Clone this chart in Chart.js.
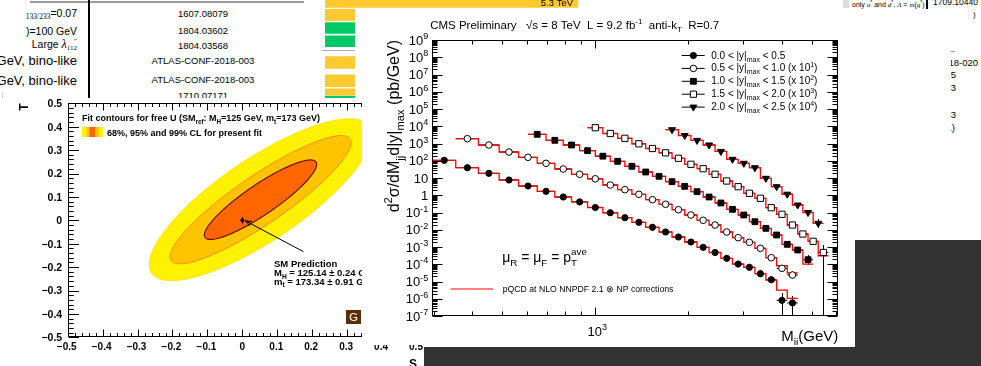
<!DOCTYPE html>
<html>
<head>
<meta charset="utf-8">
<style>
  body { margin: 0; background: #fff; }
  #page { position: relative; width: 981px; height: 366px; overflow: hidden; background: #fff;
          font-family: "Liberation Sans", Arial, Helvetica, sans-serif; color: #000; }
  .t { position: absolute; white-space: nowrap; font-size: 10px; line-height: 12px; }
  .r { text-align: right; }
  .c { text-align: center; }
  .serif { font-family: "Liberation Serif", "DejaVu Serif", serif; }
  canvas { position: absolute; }
  .blk { position: absolute; background: #333; z-index: 20; }
</style>
</head>
<body>
<div id="page">
  <!-- table fragment behind the plots, top left -->
  <div style="position:absolute;left:30px;top:1px;width:274px;height:2px;background:#9a9a9a"></div>
  <div style="position:absolute;left:88px;top:0;width:2px;height:98px;background:#000"></div>
  <div class="t r" style="right:904px;top:7px;font-size:10.5px"><span class="serif" style="font-size:7.5px;position:relative;top:2px">133/233</span>=0.07</div>
  <div class="t r" style="right:904px;top:25px;font-size:10.5px">)=100 GeV</div>
  <div class="t r" style="right:904px;top:38px;font-size:10.5px">Large <i class="serif" style="font-size:12px">λ</i><span class="serif" style="display:inline-block;vertical-align:middle;line-height:7px;font-size:7px">′′<br>112</span></div>
  <div class="t r" style="right:904px;top:54px;font-size:13px;line-height:14px">GeV, bino-like</div>
  <div class="t r" style="right:904px;top:74px;font-size:13px;line-height:14px">GeV, bino-like</div>
  <div class="t c" style="left:143px;width:120px;top:8px;font-size:9.5px">1607.08079</div>
  <div class="t c" style="left:143px;width:120px;top:25px;font-size:9.5px">1804.03602</div>
  <div class="t c" style="left:143px;width:120px;top:40px;font-size:9.5px">1804.03568</div>
  <div class="t c" style="left:143px;width:120px;top:55px;font-size:9.5px">ATLAS-CONF-2018-003</div>
  <div class="t c" style="left:143px;width:120px;top:74px;font-size:9.5px">ATLAS-CONF-2018-003</div>
  <div class="t c" style="left:143px;width:120px;top:90px;font-size:9.5px">1710.07171</div>
  <div style="position:absolute;left:322px;top:50px;width:34px;height:1px;background:#aaa"></div>

  <!-- table fragment, top right strip and right column -->
  <div style="position:absolute;left:843px;top:0;width:6px;height:8px;background:#ddd"></div>
  <div class="t" style="left:852px;top:-4px;font-size:7px">only <i class="serif">u</i><sup style="font-size:5px">*</sup> and <i class="serif">d</i><sup style="font-size:5px">*</sup>, <i class="serif">Λ</i> = <i class="serif">m</i>(<i class="serif">q</i><sup style="font-size:5px">*</sup>)</div>
  <div style="position:absolute;left:926px;top:0;width:2px;height:9px;background:#000"></div>
  <div class="t r" style="right:3px;top:-4px;font-size:8.5px">1709.10440</div>
  <div class="t" style="left:973px;top:9px;font-size:8px">)</div>
  <div style="position:absolute;left:900px;top:51px;width:55px;height:1px;background:#999"></div>
  <div class="t r" style="right:3px;top:57px;font-size:9.5px">ATLAS-CONF-2018-020</div>
  <div class="t r" style="right:25px;top:69px;font-size:9.5px">1801.02385</div>
  <div class="t r" style="right:25px;top:82px;font-size:9.5px">1805.10663</div>
  <div class="t r" style="right:25px;top:109px;font-size:9.5px">1708.07393</div>
  <div class="t r" style="right:26px;top:122px;font-size:9.5px">(1711.03301)</div>

  <canvas id="summary" width="300" height="100" style="left:325px;top:0;z-index:1"></canvas>

  <div style="position:absolute;left:2px;top:92px;width:1px;height:232px;background:#d0d0d0"></div>
  <div class="t" style="left:-3px;top:326px;font-size:17px;line-height:20px">5</div>
  <canvas id="stplot" width="440" height="268" style="left:0;top:98px;z-index:2"></canvas>
  <div style="position:absolute;left:346px;top:310px;width:15px;height:14px;background:#5b2c0b;color:#fff;font:11px 'Liberation Sans',Arial,sans-serif;line-height:14px;text-align:center;z-index:3">G</div>

  <div style="position:absolute;left:355px;top:9px;width:8px;height:89px;background:#fff;z-index:4"></div>
  <canvas id="dijet" width="589" height="336" style="left:362px;top:9px;z-index:5"></canvas>

  <div class="blk" style="left:424px;top:346.5px;width:557px;height:20px"></div>
  <div class="blk" style="left:855px;top:240px;width:126px;height:126px"></div>
</div>

<script src="https://cdn.jsdelivr.net/npm/chart.js"></script>
<script>
const SANS = '"Liberation Sans", Arial, Helvetica, sans-serif';

// ---------- dijet mass spectrum, CMS 8 TeV ----------
// mass bin boundaries (GeV); each rapidity bin uses every other one as a bin centre
const massGrid = [296, 325, 354, 386, 419, 453, 489, 526, 565, 606, 649, 693, 740, 788, 838, 890, 944,
  1000, 1058, 1118, 1181, 1246, 1313, 1383, 1455, 1530, 1607, 1687, 1770, 1856, 1945, 2037, 2132,
  2231, 2332, 2438, 2546, 2659, 2775, 2895, 3019, 3147, 3279, 3416, 3558, 3704, 3854, 4010, 4171,
  4337, 4509, 4686, 4869, 5058, 5253, 5455, 5663, 5877, 6099];

const rapLo = ['0.0', '0.5', '1.0', '1.5', '2.0'];
const rapHi = ['0.5', '1.0', '1.5', '2.0', '2.5'];
const rapScaleExp = [0, 1, 2, 3, 4];

const mjjBin1 = [325, 386, 453, 526, 606, 693, 788, 890, 1000, 1118, 1246, 1383, 1530, 1687, 1856, 2037, 2231, 2438, 2659, 2895, 3147, 3416, 3704, 4010, 4337];
const dataBin1 = [106, 39.5, 18.7, 7.66, 3.44, 1.69, 0.79, 0.41, 0.195, 0.097, 0.050, 0.027, 0.0139, 0.0074, 0.0038, 0.00195, 9.6e-4, 4.8e-4, 2.2e-4, 1.03e-4, 6.65e-5, 2.83e-5, 1.27e-5, 8.1e-7, 5.7e-7];
const nloBin1 = [106, 39.5, 18.7, 7.66, 3.44, 1.69, 0.79, 0.41, 0.195, 0.097, 0.050, 0.027, 0.0139, 0.0074, 0.0038, 0.00195, 9.6e-4, 4.8e-4, 2.2e-4, 1.03e-4, 6.65e-5, 2.83e-5, 1.2e-5, 3.2e-6, 1.06e-6];

const mjjBin2 = [386, 453, 526, 606, 693, 788, 890, 1000, 1118, 1246, 1383, 1530, 1687, 1856, 2037, 2231, 2438, 2659, 2895, 3147, 3416, 3704, 4010, 4337];
const dataBin2 = [189.7, 81.9, 32.1, 15.8, 7.11, 3.33, 1.64, 0.899, 0.393, 0.210, 0.1135, 0.0552, 0.0299, 0.0145, 0.00716, 0.00353, 0.00188, 7.4e-4, 3.46e-4, 1.87e-4, 8.4e-5, 2.4e-5, 5.8e-6, 2.38e-6];
const nloBin2 = [189.7, 81.9, 32.1, 15.8, 7.11, 3.33, 1.64, 0.899, 0.393, 0.210, 0.1135, 0.0552, 0.0299, 0.0145, 0.00716, 0.00353, 0.00188, 7.4e-4, 3.46e-4, 1.87e-4, 8.4e-5, 2.4e-5, 8.2e-6, 3.1e-6];

const mjjBin3 = [649, 740, 838, 944, 1058, 1181, 1313, 1455, 1607, 1770, 1945, 2132, 2332, 2546, 2775, 3019, 3279, 3558, 3854, 4171, 4509, 4869];
const dataBin3 = [34.15, 15.34, 8.19, 3.83, 1.84, 0.929, 0.477, 0.223, 0.125, 0.061, 0.033, 0.0161, 0.00792, 0.00356, 0.00153, 7.16e-4, 2.93e-4, 1.21e-4, 4.96e-5, 1.43e-5, 6.7e-6, 1.84e-6];
const nloBin3 = [34.15, 15.34, 8.19, 3.83, 1.84, 0.929, 0.477, 0.223, 0.125, 0.061, 0.033, 0.0161, 0.00792, 0.00356, 0.00153, 7.16e-4, 2.93e-4, 1.21e-4, 4.96e-5, 1.43e-5, 6.7e-6, 1.03e-6];

const mjjBin4 = [1000, 1118, 1246, 1383, 1530, 1687, 1856, 2037, 2231, 2438, 2659, 2895, 3147, 3416, 3704, 4010, 4337, 4686, 5058, 5455];
const dataBin4 = [8.24, 3.80, 2.00, 0.961, 0.513, 0.289, 0.139, 0.0623, 0.0346, 0.0164, 0.0067, 0.00313, 0.0013, 6.66e-4, 1.9e-4, 7.87e-5, 1.88e-5, 5.67e-6, 2.14e-6, 4.8e-7];
const nloBin4 = [8.24, 3.80, 2.00, 0.961, 0.513, 0.289, 0.139, 0.0623, 0.0346, 0.0164, 0.0067, 0.00313, 0.0013, 6.66e-4, 1.9e-4, 7.87e-5, 1.88e-5, 5.67e-6, 2.14e-6, 3.1e-7];

const mjjBin5 = [1770, 1945, 2132, 2332, 2546, 2775, 3019, 3279, 3558, 3854, 4171, 4509, 4869, 5253];
const dataBin5 = [0.631, 0.291, 0.1513, 0.0819, 0.0348, 0.0121, 0.00711, 0.00395, 9.61e-4, 3.13e-4, 1.15e-4, 2.72e-5, 1.0e-5, 2.37e-6];
const nloBin5 = [0.631, 0.291, 0.1513, 0.0819, 0.0348, 0.0121, 0.00711, 0.00395, 9.61e-4, 3.13e-4, 1.15e-4, 2.72e-5, 1.0e-5, 2.37e-6];

// [point index, lower, upper] for the visible vertical error bars
const errBin1 = [[23, 1e-9, 2.15e-6], [24, 1e-9, 1.44e-6]];
const errBin2 = [[23, 1.45e-6, 3.9e-6]];
const errBin3 = [[21, 9.1e-7, 3.4e-6]];
const errBin4 = [[19, 1e-11, 1.3e-6]];
const errBin5 = [[13, 1.26e-6, 4.2e-6]];

const xTickMinor = [300, 400, 500, 600, 700, 800, 900, 2000, 3000, 4000, 5000, 6000];
const xTickMajor = [1000];

// ---------- S,T oblique parameter fit ----------
const fitS = 0.052, fitT = 0.088;
const clDeltaChi2 = [9.21, 5.99, 2.30];   // 99, 95, 68 % CL, 2 dof
const clSigmaS = [0.105, 0.106, 0.106];
const clSigmaT = [0.114, 0.112, 0.112];
const clRho = [0.80, 0.89, 0.89];
const smS = [0], smT = [0], smTErr = 0.013;

// ---------- summary bar fragments ----------
const summaryLimitTeV = [5.3, 2.9, 1.7, 1.6, 2.3, 1.9, 1.2, 0.95];
const summaryNote = ['5.3 TeV', '', '', '', '', '', '', ''];
const summaryColor = ['#ffc930', '#ffc930', '#00c864', '#00c864', '#ffc930', '#ffc930', '#ffc930', '#00c864'];
const summaryRowPos = [2, 15, 28, 41.3, 62.5, 80.8, 92, 101];
const summaryRowHeight = [11, 11.4, 10.6, 10.7, 11.6, 11.7, 6.5, 10];

// ---------- helpers ----------
function drawRich(ctx, runs, x, y, size, opts = {}) {
  const fam = opts.family || SANS;
  const wt = opts.weight || 'normal';
  const pieces = runs.map(r => {
    const t = r[0], k = r[1] || '';
    const fs = k ? size * 0.7 : size;
    ctx.font = `${wt} ${fs}px ${fam}`;
    return { t, k, fs, w: ctx.measureText(t).width };
  });
  const total = pieces.reduce((s, p) => s + p.w, 0);
  let cx = opts.align === 'right' ? x - total : opts.align === 'center' ? x - total / 2 : x;
  ctx.textAlign = 'left';
  ctx.textBaseline = 'alphabetic';
  for (const p of pieces) {
    ctx.font = `${wt} ${p.fs}px ${fam}`;
    const dy = p.k === 'sup' ? -size * 0.42 : p.k === 'sub' ? size * 0.3 : 0;
    ctx.fillText(p.t, cx, y + dy);
    cx += p.w;
  }
  return total;
}

function drawMarker(ctx, style, x, y, r, filled) {
  ctx.beginPath();
  if (style === 'circle') ctx.arc(x, y, r, 0, Math.PI * 2);
  else if (style === 'rect') ctx.rect(x - r * 0.707, y - r * 0.707, r * 1.414, r * 1.414);
  else { ctx.moveTo(x - r * 0.866, y - r * 0.5); ctx.lineTo(x + r * 0.866, y - r * 0.5); ctx.lineTo(x, y + r); ctx.closePath(); }
  ctx.fillStyle = filled ? '#000' : '#fff';
  ctx.fill();
  ctx.lineWidth = 1;
  ctx.strokeStyle = '#000';
  ctx.stroke();
}

function histPoints(centers, values, scale) {
  const pts = centers.map((m, i) => ({ x: massGrid[massGrid.indexOf(m) - 1], y: values[i] * scale }));
  const last = massGrid.indexOf(centers[centers.length - 1]);
  pts.push({ x: massGrid[last + 1], y: values[values.length - 1] * scale });
  return pts;
}

const rapBins = [
  { mjj: mjjBin1, data: dataBin1, nlo: nloBin1, err: errBin1, style: 'circle', filled: true, r: 3.1 },
  { mjj: mjjBin2, data: dataBin2, nlo: nloBin2, err: errBin2, style: 'circle', filled: false, r: 3.3 },
  { mjj: mjjBin3, data: dataBin3, nlo: nloBin3, err: errBin3, style: 'rect', filled: true, r: 4.1 },
  { mjj: mjjBin4, data: dataBin4, nlo: nloBin4, err: errBin4, style: 'rect', filled: false, r: 4.4 },
  { mjj: mjjBin5, data: dataBin5, nlo: nloBin5, err: errBin5, style: 'triangle', filled: true, r: 4.0 }
];

const dijetSets = [];
rapBins.forEach((b, k) => {
  const scale = Math.pow(10, rapScaleExp[k]);
  dijetSets.push({
    data: histPoints(b.mjj, b.nlo, scale), stepped: true, borderColor: '#ff0000',
    borderWidth: 1.3, pointRadius: 0, fill: false, order: 2
  });
  dijetSets.push({
    data: b.mjj.map((m, i) => ({ x: m, y: b.data[i] * scale })), showLine: false,
    pointStyle: b.style, rotation: b.style === 'triangle' ? 180 : 0,
    pointRadius: b.r, pointBackgroundColor: b.filled ? '#000' : '#fff', pointBorderColor: '#000',
    pointBorderWidth: 1, order: 1
  });
});

const dijetDecor = {
  id: 'dijetDecor',
  beforeDraw(chart) {
    const ctx = chart.ctx;
    ctx.save();
    ctx.fillStyle = '#fff';
    ctx.fillRect(0, 0, chart.width, chart.height);
    ctx.restore();
  },
  beforeDatasetsDraw(chart) {
    const { ctx, chartArea: a, scales: { x, y } } = chart;
    ctx.save();
    ctx.beginPath();
    ctx.rect(a.left, a.top, a.right - a.left, a.bottom - a.top);
    ctx.clip();
    ctx.strokeStyle = '#000';
    ctx.lineWidth = 1;
    ctx.beginPath();
    rapBins.forEach((b, k) => {
      const scale = Math.pow(10, rapScaleExp[k]);
      b.mjj.forEach((m, i) => {
        const g = massGrid.indexOf(m);
        const py = y.getPixelForValue(b.data[i] * scale);
        ctx.moveTo(x.getPixelForValue(massGrid[g - 1]), py);
        ctx.lineTo(x.getPixelForValue(massGrid[g + 1]), py);
      });
      b.err.forEach(([i, lo, hi]) => {
        const px = Math.round(x.getPixelForValue(b.mjj[i])) + 0.5;
        ctx.moveTo(px, y.getPixelForValue(lo * scale));
        ctx.lineTo(px, y.getPixelForValue(hi * scale));
      });
    });
    ctx.stroke();
    ctx.restore();
  },
  afterDraw(chart) {
    const { ctx, chartArea: a, scales: { x, y } } = chart;
    ctx.save();
    ctx.strokeStyle = '#000';
    ctx.fillStyle = '#000';
    ctx.lineWidth = 1;
    const L = Math.round(a.left) + 0.5, R = Math.round(a.right) - 0.5;
    const T = Math.round(a.top) + 0.5, B = Math.round(a.bottom) - 0.5;
    ctx.strokeRect(L, T, R - L, B - T);
    ctx.beginPath();
    const xt = (v, len) => {
      const px = Math.round(x.getPixelForValue(v)) + 0.5;
      ctx.moveTo(px, B); ctx.lineTo(px, B - len);
      ctx.moveTo(px, T); ctx.lineTo(px, T + len);
    };
    xTickMinor.forEach(v => xt(v, 4));
    xTickMajor.forEach(v => xt(v, 8));
    const yt = (v, len) => {
      const py = Math.round(y.getPixelForValue(v)) + 0.5;
      ctx.moveTo(L, py); ctx.lineTo(L + len, py);
      ctx.moveTo(R, py); ctx.lineTo(R - len, py);
    };
    for (let e = -7; e <= 9; e++) {
      yt(Math.pow(10, e), 10);
      if (e < 9) for (let m = 2; m <= 9; m++) yt(m * Math.pow(10, e), 5);
    }
    ctx.stroke();

    // y tick labels
    for (let e = -7; e <= 9; e++) {
      const py = y.getPixelForValue(Math.pow(10, e)) + 4.6;
      const runs = e === 0 ? [['1']] : e === 1 ? [['10']] : [['10'], [String(e), 'sup']];
      drawRich(ctx, runs, a.left - 3.5, py, 13, { align: 'right' });
    }
    drawRich(ctx, [['10'], ['3', 'sup']], x.getPixelForValue(1000) + 2, a.bottom + 19.5, 13, { align: 'center' });

    // axis titles
    drawRich(ctx, [['M'], ['jj', 'sub'], ['(GeV)']], a.right, a.bottom + 25, 15, { align: 'right' });
    ctx.save();
    ctx.translate(a.left - 32.5, a.top);
    ctx.rotate(-Math.PI / 2);
    drawRich(ctx, [['d'], ['2', 'sup'], ['σ/dM'], ['jj', 'sub'], ['d|y|'], ['max', 'sub'], [' (pb/GeV)']], 0, 0, 16, { align: 'right' });
    ctx.restore();

    // header
    drawRich(ctx, [['CMS Preliminary   √s = 8 TeV  L = 9.2 fb'], ['-1', 'sup'], ['  anti-k'], ['T', 'sub'], ['  R=0.7']], a.left - 1.5, a.top - 11, 11.5);

    // legend
    rapBins.forEach((b, k) => {
      const ly = a.top + 15 + k * 12.9;
      const lx = a.left + 250;
      ctx.beginPath();
      ctx.moveTo(lx, ly + 0.5); ctx.lineTo(lx + 23, ly + 0.5);
      ctx.stroke();
      drawMarker(ctx, b.style, lx + 11.7, ly + 0.5, b.r, b.filled);
      ctx.fillStyle = '#000';
      const runs = [[rapLo[k] + ' < |y|'], ['max', 'sub'], [' < ' + rapHi[k]]];
      if (rapScaleExp[k] > 0) runs.push([' (x 10'], [String(rapScaleExp[k]), 'sup'], [')']);
      drawRich(ctx, runs, lx + 29.5, ly + 3.5, 10);
    });

    // scale choice and theory legend
    const mx = a.left + 70.5, my = a.top + 222;
    const mw = drawRich(ctx, [['μ'], ['R', 'sub'], [' = μ'], ['F', 'sub'], [' = p']], mx, my, 14);
    drawRich(ctx, [['T', 'sub']], mx + mw, my, 14);
    drawRich(ctx, [['ave', 'sup']], mx + mw, my - 1, 14);
    ctx.strokeStyle = '#ff0000';
    ctx.lineWidth = 1.2;
    ctx.beginPath();
    ctx.moveTo(a.left + 19, a.top + 249); ctx.lineTo(a.left + 61.3, a.top + 249);
    ctx.stroke();
    ctx.fillStyle = '#000';
    drawRich(ctx, [['pQCD at NLO NNPDF 2.1 ⊗ NP corrections']], a.left + 71, a.top + 252, 8.7);
    ctx.restore();
  }
};

new Chart(document.getElementById('dijet'), {
  type: 'line',
  data: { datasets: dijetSets },
  options: {
    responsive: false,
    animation: false,
    layout: { padding: { left: 69.7, top: 31, right: 112.7, bottom: 29 } },
    plugins: { legend: { display: false }, tooltip: { enabled: false } },
    scales: {
      x: { type: 'logarithmic', min: 296, max: 6099, display: false },
      y: { type: 'logarithmic', min: 1e-7, max: 1e9, display: false }
    }
  },
  plugins: [dijetDecor]
});

// ---------- S,T contour plot ----------
const stDecor = {
  id: 'stDecor',
  beforeDraw(chart) {
    const ctx = chart.ctx;
    ctx.save();
    ctx.fillStyle = '#fff';
    ctx.fillRect(0, 0, chart.width, chart.height);
    ctx.restore();
  },
  beforeDatasetsDraw(chart) {
    const { ctx, chartArea: a, scales: { x, y } } = chart;
    const fills = ['#fff200', '#ffc400', '#ff6600'];
    const edges = ['#ffe000', '#ff7a00', '#6b1200'];
    ctx.save();
    ctx.beginPath();
    ctx.rect(a.left, a.top, a.right - a.left, a.bottom - a.top);
    ctx.clip();
    clDeltaChi2.forEach((d2, k) => {
      const r = Math.sqrt(d2), rho = clRho[k];
      ctx.beginPath();
      for (let i = 0; i <= 180; i++) {
        const ang = i / 180 * Math.PI * 2;
        const u = Math.cos(ang), v = Math.sin(ang);
        const s = fitS + r * clSigmaS[k] * u;
        const t = fitT + r * clSigmaT[k] * (rho * u + Math.sqrt(1 - rho * rho) * v);
        const px = x.getPixelForValue(s), py = y.getPixelForValue(t);
        if (i === 0) ctx.moveTo(px, py); else ctx.lineTo(px, py);
      }
      ctx.closePath();
      ctx.fillStyle = fills[k];
      ctx.fill();
      ctx.strokeStyle = edges[k];
      ctx.lineWidth = k === 2 ? 1.2 : 0.8;
      ctx.stroke();
    });
    ctx.restore();
  },
  afterDraw(chart) {
    const { ctx, chartArea: a, scales: { x, y } } = chart;
    ctx.save();
    ctx.strokeStyle = '#000';
    ctx.fillStyle = '#000';
    ctx.lineWidth = 1;
    const L = Math.round(a.left) + 0.5, R = Math.round(a.right) - 0.5;
    const T = Math.round(a.top) + 0.5, B = Math.round(a.bottom) - 0.5;
    ctx.strokeRect(L, T, R - L, B - T);
    ctx.beginPath();
    for (let i = -25; i <= 25; i++) {
      const v = i * 0.02;
      const major = i % 5 === 0;
      const px = Math.round(x.getPixelForValue(v)) + 0.5;
      const lx = major ? 7 : 3.5;
      ctx.moveTo(px, B); ctx.lineTo(px, B - lx);
      ctx.moveTo(px, T); ctx.lineTo(px, T + lx);
      const py = Math.round(y.getPixelForValue(v)) + 0.5;
      const ly = major ? 10.5 : 5.2;
      ctx.moveTo(L, py); ctx.lineTo(L + ly, py);
      ctx.moveTo(R, py); ctx.lineTo(R - ly, py);
    }
    ctx.stroke();
    const fmt = v => (v < 0 ? '\u2212' : '') + (Math.abs(v) < 1e-9 ? '0' : Math.abs(v).toFixed(1));
    for (let i = -5; i <= 5; i++) {
      const v = i / 10;
      drawRich(ctx, [[fmt(v)]], a.left - 5.5, y.getPixelForValue(v) + 3.8, 10.5, { weight: 'bold', align: 'right' });
      drawRich(ctx, [[fmt(v)]], x.getPixelForValue(v) - (i === 0 ? 0 : 1), a.bottom + 12.5, 10, { weight: 'bold', align: 'center' });
    }
    // axis titles
    drawRich(ctx, [['S']], a.right, a.bottom + 30.5, 12, { weight: 'bold', align: 'right' });
    ctx.save();
    ctx.translate(27.5, a.top);
    ctx.rotate(-Math.PI / 2);
    drawRich(ctx, [['T']], 0, 0, 12, { weight: 'bold', align: 'right' });
    ctx.restore();

    // legend
    drawRich(ctx, [['Fit contours for free U (SM'], ['ref', 'sub'], [': M'], ['H', 'sub'], ['=125 GeV, m'], ['t', 'sub'], ['=173 GeV)']], 82, 23, 9, { weight: 'bold' });
    const sw = [['#fff200', 4.3], ['#ffc400', 3], ['#ff6600', 5.7], ['#ffc400', 4.3], ['#fff200', 3.7]];
    let sx = 82;
    sw.forEach(([c, w]) => { ctx.fillStyle = c; ctx.fillRect(sx, 29, w, 10); sx += w; });
    ctx.fillStyle = '#000';
    drawRich(ctx, [['68%, 95% and 99% CL for present fit']], 107, 37.5, 9, { weight: 'bold' });

    // SM annotation with arrow
    const hx = x.getPixelForValue(0.008), hy = y.getPixelForValue(-0.002);
    const tx = x.getPixelForValue(0.175), ty = y.getPixelForValue(-0.134);
    ctx.beginPath();
    ctx.moveTo(tx, ty); ctx.lineTo(hx, hy);
    const ang = Math.atan2(ty - hy, tx - hx);
    ctx.moveTo(hx + 7 * Math.cos(ang + 0.35), hy + 7 * Math.sin(ang + 0.35));
    ctx.lineTo(hx, hy);
    ctx.lineTo(hx + 7 * Math.cos(ang - 0.35), hy + 7 * Math.sin(ang - 0.35));
    ctx.lineWidth = 1;
    ctx.stroke();
    drawRich(ctx, [['SM Prediction']], 274, 168.5, 9.5, { weight: 'bold' });
    drawRich(ctx, [['M'], ['H', 'sub'], [' = 125.14 \u00b1 0.24 GeV']], 274, 178, 9.5, { weight: 'bold' });
    drawRich(ctx, [['m'], ['t', 'sub'], [' = 173.34 \u00b1 0.91 GeV']], 274, 186.5, 9.5, { weight: 'bold' });
    // SM point error bar
    const px = Math.round(x.getPixelForValue(smS[0])) + 0.5;
    ctx.beginPath();
    ctx.moveTo(px, y.getPixelForValue(smT[0] - smTErr));
    ctx.lineTo(px, y.getPixelForValue(smT[0] + smTErr));
    ctx.lineWidth = 1.3;
    ctx.stroke();
    ctx.restore();
  }
};

new Chart(document.getElementById('stplot'), {
  type: 'scatter',
  data: { datasets: [{ data: smS.map((s, i) => ({ x: s, y: smT[i] })), pointRadius: 1.5, pointBackgroundColor: '#000', pointBorderColor: '#000' }] },
  options: {
    responsive: false,
    animation: false,
    layout: { padding: { left: 67.7, top: 5.3, right: 23, bottom: 28.7 } },
    plugins: { legend: { display: false }, tooltip: { enabled: false } },
    scales: {
      x: { type: 'linear', min: -0.5, max: 0.5, display: false },
      y: { type: 'linear', min: -0.5, max: 0.5, display: false }
    }
  },
  plugins: [stDecor]
});

// ---------- limit summary bars ----------
const summaryDecor = {
  id: 'summaryDecor',
  afterDatasetsDraw(chart) {
    const { ctx, scales: { x, y } } = chart;
    ctx.save();
    ctx.fillStyle = '#000';
    summaryNote.forEach((n, i) => {
      if (!n) return;
      drawRich(ctx, [[n]], x.getPixelForValue(summaryLimitTeV[i]) - 5, y.getPixelForValue(summaryRowPos[i]) + 4, 9.5, { align: 'right' });
    });
    ctx.restore();
  }
};

new Chart(document.getElementById('summary'), {
  type: 'bar',
  data: {
    datasets: summaryLimitTeV.map((v, i) => ({
      data: [{ x: v, y: summaryRowPos[i] }],
      backgroundColor: summaryColor[i],
      barThickness: summaryRowHeight[i],
      grouped: false
    }))
  },
  options: {
    indexAxis: 'y',
    responsive: false,
    animation: false,
    layout: { padding: 0 },
    plugins: { legend: { display: false }, tooltip: { enabled: false } },
    scales: {
      x: { type: 'linear', min: 0, max: 6.284, display: false, offset: false },
      y: { type: 'linear', min: 0, max: 100, reverse: true, display: false, offset: false }
    }
  },
  plugins: [summaryDecor]
});
</script>
</body>
</html>
